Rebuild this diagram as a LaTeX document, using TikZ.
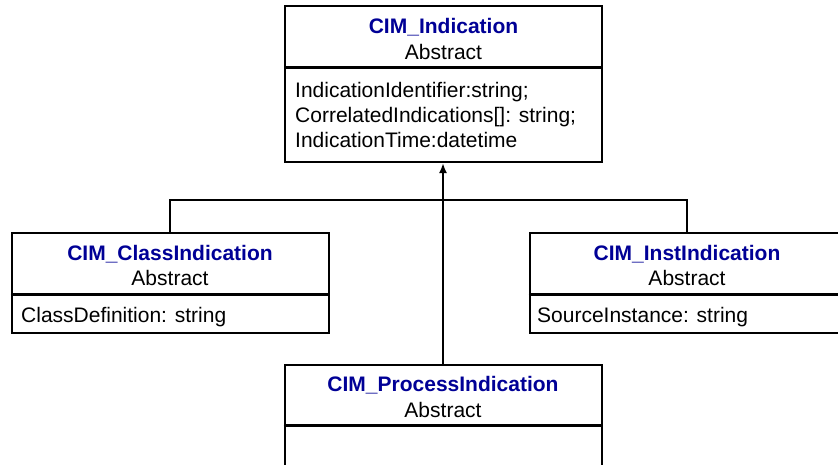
\documentclass[tikz,border=0pt]{standalone}
\usepackage{fontspec}
\setmainfont{Liberation Sans}
\usetikzlibrary{arrows.meta}
\definecolor{titleblue}{RGB}{0,0,150}
\tikzset{
  classpart/.style={draw=black, line width=2pt, fill=white, inner sep=0pt,
    minimum width=317pt},
  divider/.style={line width=2.6pt},
  title/.style={anchor=base, inner sep=0pt, font=\fontsize{21}{25}\selectfont\bfseries, text=titleblue},
  stereo/.style={anchor=base, inner sep=0pt, font=\fontsize{21}{25}\selectfont},
  attr/.style={anchor=base west, inner sep=0pt, font=\fontsize{21}{25}\selectfont},
  link/.style={line width=2pt},
}
\begin{document}
\begin{tikzpicture}[x=1pt, y=-1pt]
  \useasboundingbox (0,0) rectangle (838,464);
  \clip (0,0) rectangle (838,464);

  % CIM_Indication
  \node[classpart, minimum height=61pt] (indH) at (443.5,36.5) {};
  \node[classpart, minimum height=95pt] (indB) at (443.5,114.5) {};
  \draw[divider] (indH.south west) -- (indH.south east);
  \node[title]  (indT) at (443.5,33) {CIM\_Indication};
  \node[stereo] (indS) at (443.5,59) {Abstract};
  \node[attr] (indA1) at (295,97)  {IndicationIdentifier:string;};
  \node[attr] (indA2) at (295,122) {CorrelatedIndications[]: string;};
  \node[attr] (indA3) at (295,147) {IndicationTime:datetime};

  % CIM_ClassIndication
  \node[classpart, minimum height=61pt] (clsH) at (170,263.5) {};
  \node[classpart, minimum height=39pt] (clsB) at (170,313.5) {};
  \draw[divider] (clsH.south west) -- (clsH.south east);
  \node[title]  (clsT) at (170,260) {CIM\_ClassIndication};
  \node[stereo] (clsS) at (170,285) {Abstract};
  \node[attr] (clsA1) at (21,322) {ClassDefinition: string};

  % CIM_InstIndication (runs past the right edge)
  \node[classpart, minimum width=340pt, minimum height=61pt, anchor=west] (insH) at (528.5,263.5) {};
  \node[classpart, minimum width=340pt, minimum height=39pt, anchor=west] (insB) at (528.5,313.5) {};
  \draw[divider] (insH.south west) -- (insH.south east);
  \node[title]  (insT) at (687,260) {CIM\_InstIndication};
  \node[stereo] (insS) at (687,285) {Abstract};
  \node[attr] (insA1) at (537,322) {SourceInstance: string};
  \coordinate (insTop) at (687,233);

  % CIM_ProcessIndication
  \node[classpart, minimum height=60pt] (prcH) at (443,395) {};
  \node[classpart, minimum height=80pt] (prcB) at (443,465) {};
  \draw[divider] (prcH.south west) -- (prcH.south east);
  \node[title]  (prcT) at (443,391) {CIM\_ProcessIndication};
  \node[stereo] (prcS) at (443,417) {Abstract};

  % inheritance connectors
  \coordinate (bar) at (443,200);
  \draw[link] (clsH.north) -- (clsH.north |- bar) -- (insTop |- bar) -- (insTop);
  \draw[link, -{Latex[length=10pt, width=8pt]}] (prcH.north) -- (prcH.north |- indB.south);
\end{tikzpicture}
\end{document}
